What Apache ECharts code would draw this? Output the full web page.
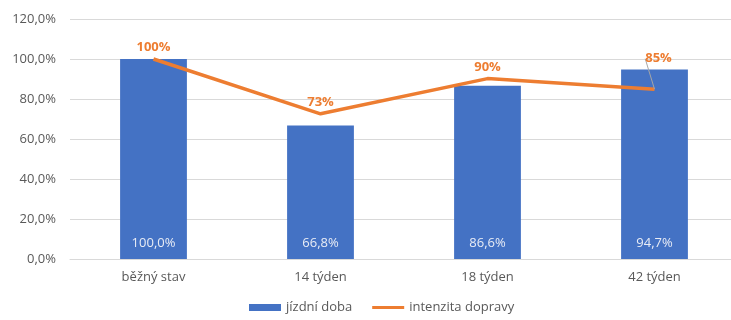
<!DOCTYPE html>
<html>
<head>
<meta charset="utf-8">
<script src="https://cdn.jsdelivr.net/npm/echarts@6/dist/echarts.min.js"></script>
<style>
  html, body { margin: 0; padding: 0; background: #fff; }
  #chart { width: 731px; height: 320px; }
</style>
</head>
<body>
<div id="chart"></div>
<script type="text/javascript">
  // data
  var categories = ['běžný stav', '14 týden', '18 týden', '42 týden'];
  var jizdniDoba = [100.0, 66.8, 86.6, 94.7];
  var intenzita = [100, 72.6, 90.2, 84.9];

  var chart = echarts.init(document.getElementById('chart'));
  var txt = '#595959';
  var font = '"Open Sans", "Liberation Sans", sans-serif';

  var fmtAxis = function (v) { return v.toFixed(1).replace('.', ',') + '%'; };

  // only the last label is pulled up with a leader line
  var lineData = intenzita.map(function (v, i) {
    if (i === 3) {
      return { value: v, labelLine: { show: true, lineStyle: { color: '#a6a6a6', width: 1 } } };
    }
    return v;
  });

  chart.setOption({
    animation: false,
    textStyle: { fontFamily: font },
    grid: { left: 70, top: 19, width: 668, height: 240, outerBoundsMode: 'none', containLabel: false },
    legend: {
      bottom: 1,
      left: 244,
      itemGap: 20,
      itemWidth: 32,
      itemHeight: 7,
      textStyle: { color: txt, fontSize: 13, fontFamily: font },
      data: [
        { name: 'jízdní doba', icon: 'rect' },
        { name: 'intenzita dopravy', icon: 'path://M0,0 H32 V3 H0 Z' }
      ]
    },
    xAxis: {
      type: 'category',
      data: categories,
      axisLine: { lineStyle: { color: '#d9d9d9' } },
      axisTick: { show: false },
      axisLabel: { color: txt, fontSize: 13, margin: 12 }
    },
    yAxis: {
      type: 'value',
      min: 0,
      max: 120,
      interval: 20,
      axisLine: { show: false },
      axisTick: { show: false },
      splitLine: { lineStyle: { color: '#d9d9d9', width: 1 } },
      axisLabel: { color: txt, fontSize: 13, margin: 14, formatter: fmtAxis }
    },
    series: [
      {
        name: 'jízdní doba',
        type: 'bar',
        data: jizdniDoba,
        barWidth: '40%',
        itemStyle: { color: '#4472C4' },
        label: {
          show: true,
          position: 'insideBottom',
          distance: 9,
          color: '#e8ecf5',
          fontSize: 13,
          formatter: function (p) { return p.value.toFixed(1).replace('.', ',') + '%'; }
        }
      },
      {
        name: 'intenzita dopravy',
        type: 'line',
        data: lineData,
        symbol: 'circle',
        symbolSize: 0,
        showSymbol: true,
        lineStyle: { color: '#ED7D31', width: 3.5 },
        itemStyle: { color: '#ED7D31' },
        label: {
          show: true,
          position: 'top',
          distance: 5,
          color: '#ED7D31',
          fontWeight: 'bold',
          fontSize: 13,
          formatter: function (p) { return Math.round(p.value) + '%'; }
        },
        labelLine: { show: false },
        labelLayout: function (params) {
          if (params.dataIndex === 3) {
            return { dx: 4, dy: -19 };
          }
          return {};
        }
      }
    ]
  });
</script>
</body>
</html>
